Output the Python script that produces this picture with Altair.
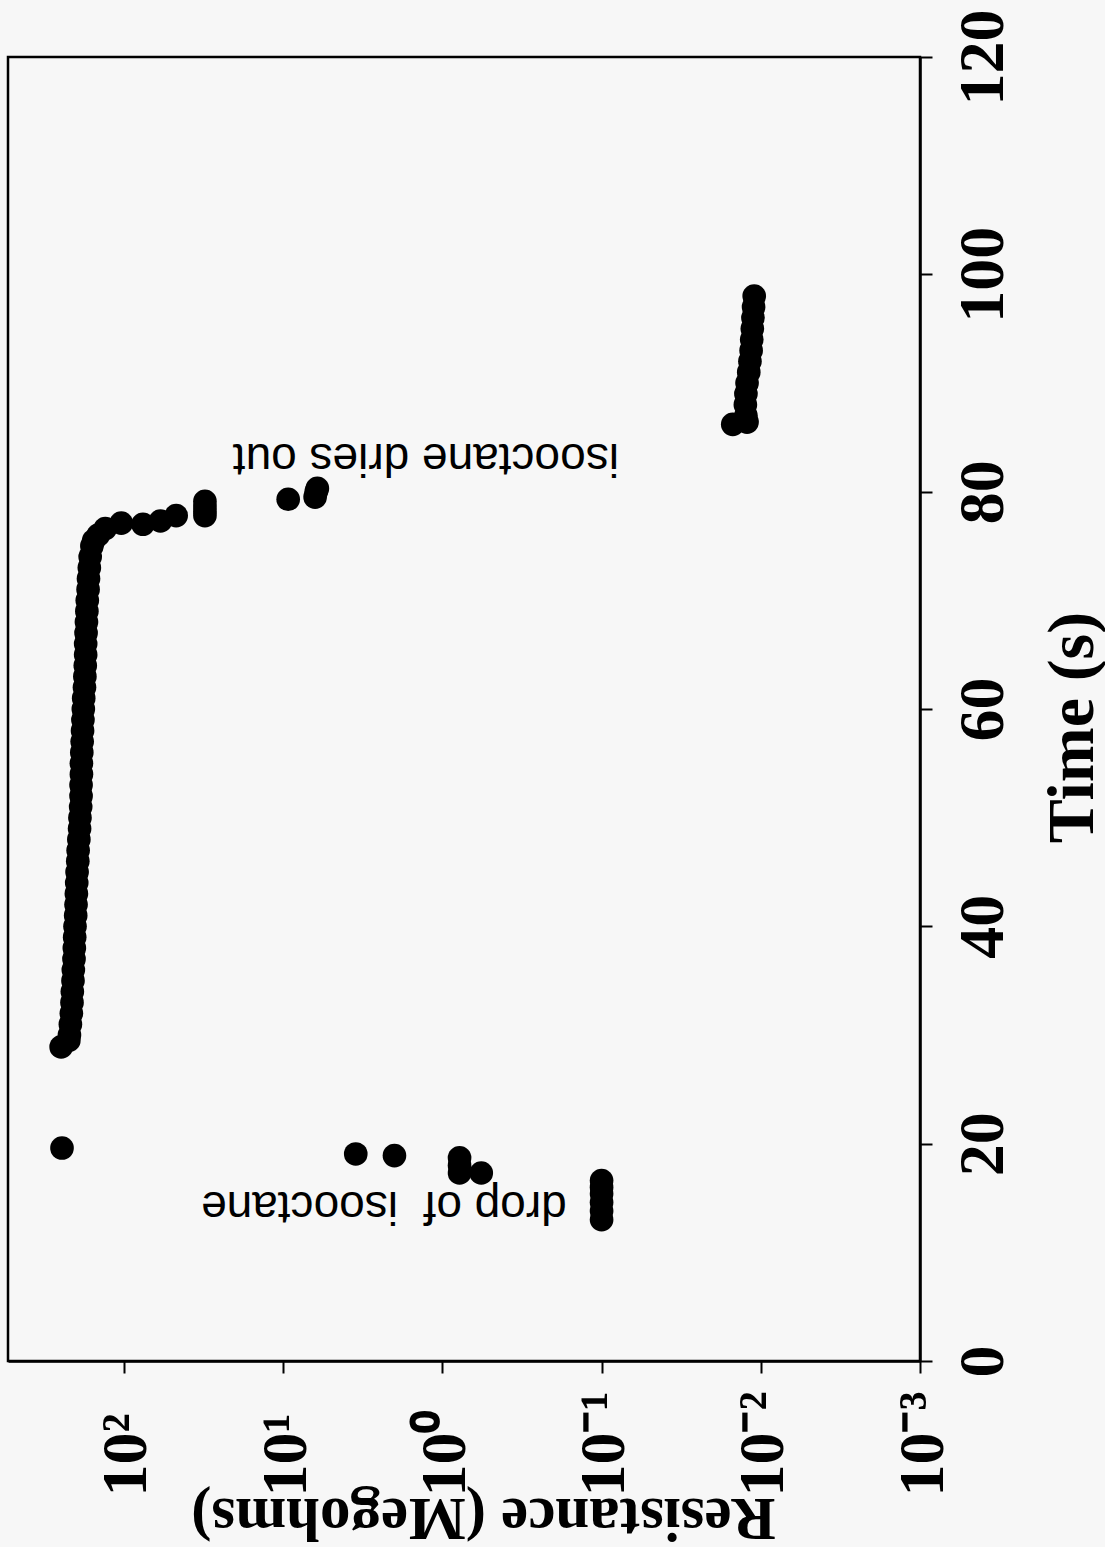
import altair as alt
import pandas as pd

# ---- data ----
drop_time = [13.0, 13.8, 14.6, 15.4, 16.0, 16.6, 17.3, 17.3, 18.0, 18.7, 18.9, 19.05, 19.6]
drop_res = [0.10, 0.10, 0.10, 0.10, 0.10, 0.10, 0.57, 0.78, 0.78, 0.78, 2.0, 3.5, 245]

plateau_time = [28.9, 29.5, 30, 31, 32, 33, 34, 35, 36, 37, 38, 39, 40, 41, 42, 43, 44, 45,
                46, 47, 48, 49, 50, 51, 52, 53, 54, 55, 56, 57, 58, 59, 60, 61, 62, 63, 64,
                65, 66, 67, 68, 69, 70, 71, 72, 73, 74, 75, 75.5, 76.0]
plateau_res = [248, 222, 220, 217, 214, 212, 211, 209, 208, 206, 205, 204, 203, 201, 200, 199,
               198, 197, 195, 194, 192, 190, 189, 187, 186, 186, 185, 185, 184, 183, 182, 181,
               180, 179, 177, 176, 175, 174, 174, 173, 172, 171, 170, 168, 167, 165, 163, 159,
               155, 145]

fall_time = [76.6, 77.1, 77.0, 77.3, 77.8, 77.8, 78.2, 78.6, 79.1, 79.3, 79.5, 80.0, 80.3]
fall_res = [131, 104, 76, 59, 47, 31, 31, 31, 31, 9.3, 6.3, 6.2, 6.1]

dried_time = [86.2, 86.4, 87, 88, 89, 90, 91, 92, 93, 94, 95, 96, 97, 98]
dried_res = [0.0150, 0.0122, 0.0124, 0.0125, 0.0124, 0.0122, 0.0119, 0.0117, 0.0115,
             0.0114, 0.0113, 0.0112, 0.0111, 0.0110]

res_ticks = [100, 10, 1, 0.1, 0.01, 0.001]
# labels for exponents -3 .. 2
res_tick_labels = ["10\u207b\u00b3", "10\u207b\u00b2", "10\u207b\u00b9", "10\u2070", "10\u00b9", "10\u00b2"]
time_ticks = [0, 20, 40, 60, 80, 100, 120]

note_text = ["drop of\u00a0 isooctane", "isooctane dries out"]
note_time = [14.3, 83.1]
note_res = [2.33, 1.27]

# ---- tables ----
times = drop_time + plateau_time + fall_time + dried_time
ress = drop_res + plateau_res + fall_res + dried_res
df = pd.DataFrame({"time": times, "res": ress})
notes = pd.DataFrame({"text": note_text, "time": note_time, "res": note_res})

arr = "[" + ", ".join(f"'{l}'" for l in res_tick_labels) + "]"
label_expr = f"{arr}[round(log(datum.value)/LN10) + 3]"

SERIF = "Liberation Serif"

x_scale = alt.Scale(type="log", domain=[0.001, 535], reverse=True, nice=False)
y_scale = alt.Scale(domain=[0, 120], nice=False, zero=False)

x_axis = alt.Axis(
    values=res_ticks, labelExpr=label_expr, grid=False,
    domainColor="black", domainWidth=2.5, tickColor="black", tickWidth=2, tickSize=12,
    labelFont=SERIF, labelFontWeight="bold", labelFontSize=64, labelColor="black",
    labelAngle=270, labelAlign="left", labelBaseline="middle", labelPadding=123,
    labelOffset=3, labelOverlap=False, labelFlush=False, labelBound=False,
    title="Resistance (Megohms)", titleFont=SERIF, titleFontWeight="bold", titleFontSize=61,
    titleColor="black", titleAngle=180, titleAlign="center", titleBaseline="middle",
    titleX=475, titleY=155,
)
y_axis = alt.Axis(
    orient="right", values=time_ticks, format="d", grid=False,
    domainColor="black", domainWidth=2.5, tickColor="black", tickWidth=2, tickSize=12,
    labelFont=SERIF, labelFontWeight="bold", labelFontSize=64, labelColor="black",
    labelAngle=270, labelAlign="center", labelBaseline="top", labelPadding=19,
    labelOverlap=False, labelFlush=False, labelBound=False,
    title="Time (s)", titleFont=SERIF, titleFontWeight="bold", titleFontSize=66,
    titleColor="black", titleAngle=270, titleAlign="center", titleBaseline="top",
    titleX=120, titleY=670,
)

points = alt.Chart(df).mark_circle(size=560, color="black", opacity=1).encode(
    x=alt.X("res:Q", scale=x_scale, axis=x_axis),
    y=alt.Y("time:Q", scale=y_scale, axis=y_axis),
)

labels = alt.Chart(notes).mark_text(
    font="Liberation Sans", fontSize=46, angle=180, align="center", baseline="middle",
    color="black",
).encode(
    x=alt.X("res:Q", scale=x_scale),
    y=alt.Y("time:Q", scale=y_scale),
    text="text:N",
)

chart = alt.layer(points, labels).properties(
    width=912, height=1304,
    padding={"left": 8, "top": 8, "right": 0, "bottom": 0},
    background="#f7f7f7",
).configure_view(stroke="black", strokeWidth=2.5, fill="#f7f7f7")

chart.save("out.html", embed_options={"renderer": "svg", "actions": False})
